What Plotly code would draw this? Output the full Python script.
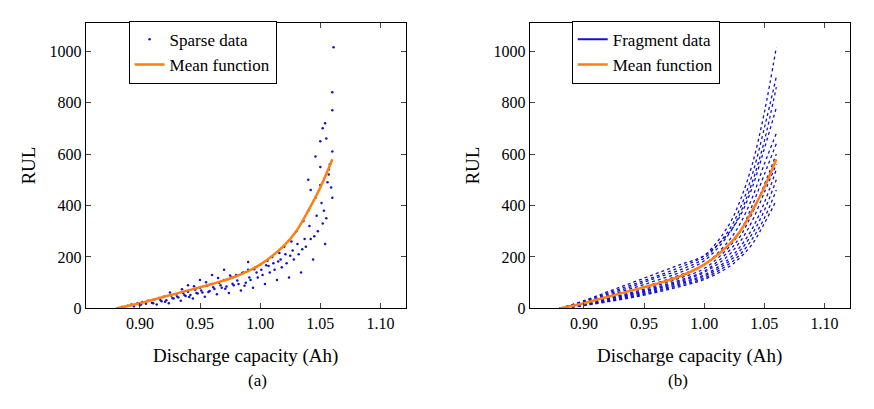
import plotly.graph_objects as go

sparse_x = [0.885,0.89,0.893,0.895,0.898,0.90,0.902,0.905,0.907,0.91,0.912,0.914,0.916,0.918,0.92,0.922,0.924,0.926,0.928,0.93,0.932,0.934,0.936,0.938,0.94,0.942,0.944,0.946,0.948,0.95,0.952,0.954,0.956,0.958,0.96,0.962,0.964,0.966,0.968,0.97,0.972,0.974,0.976,0.978,0.98,0.982,0.984,0.986,0.988,0.99,0.992,0.994,0.996,0.998,1.00,1.002,1.004,1.006,1.008,1.01,1.012,1.014,1.016,1.018,1.02,1.022,1.024,1.026,1.028,1.03,1.032,1.034,1.036,1.038,1.04,1.042,1.044,1.046,1.048,1.05,1.052,1.054,1.046,1.05,1.052,1.054,1.056,1.057,1.058,1.06,1.06,1.06,1.06,1.061,1.04,1.042,1.05,1.055,0.97,0.96,0.95,0.94,0.99,
            0.901,0.906,0.911,0.917,0.921,0.927,0.931,0.937,0.941,0.947,0.951,0.957,0.961,0.967,0.971,0.977,0.981,0.987,0.991,0.997,1.001,1.007,1.011,1.017,1.021,1.027,1.031,1.037,1.041,1.047,1.051,1.057,0.925,0.935,0.945,0.955,0.965,0.975,0.985,0.995,1.005,1.015,1.025,1.035,1.045,1.055,1.059,1.053]
sparse_y = [5,10,15,8,20,12,25,18,30,22,35,15,40,28,45,32,20,50,38,55,42,30,60,48,65,52,38,72,58,80,62,45,88,68,95,75,55,100,80,110,85,60,120,90,130,95,70,140,100,150,110,80,160,120,170,130,95,185,140,200,150,110,215,160,240,175,120,260,190,300,210,140,340,240,380,270,190,430,300,480,330,250,590,550,700,720,490,520,560,610,430,840,770,1015,500,460,650,660,150,130,110,90,180,
            16,28,20,33,26,40,46,52,44,60,70,64,82,90,76,96,108,88,120,140,150,165,175,190,210,225,250,270,320,360,410,540,62,74,86,102,118,128,138,152,168,182,205,230,280,350,470,380]

cap_grid = [0.88,0.90,0.92,0.94,0.96,0.98,1.00,1.02,1.03,1.04,1.05,1.06]
mean_rul = [0,20,45,70,95,125,170,245,300,380,470,580]
fragments = [
    [0,28,60,92,125,160,205,320,420,560,760,1015],
    [0,25,55,85,118,150,195,300,390,520,700,900],
    [0,22,50,78,108,140,185,285,370,490,650,860],
    [0,30,65,100,135,170,205,290,360,470,620,780],
    [0,20,45,70,98,130,170,260,330,430,560,680],
    [0,18,40,62,88,118,155,235,300,400,520,640],
    [0,17,38,58,82,110,145,220,280,370,480,600],
    [0,15,35,55,78,105,140,205,260,340,450,560],
    [0,14,32,52,75,100,130,190,240,310,410,540],
    [0,13,30,48,70,95,125,180,225,290,380,500],
    [0,12,28,45,66,90,118,170,210,270,350,460],
    [0,11,26,42,62,85,112,160,198,250,330,420],
]

BLUE = "#1010d0"
ORANGE = "#ff7f0e"
F = "Liberation Serif, Times New Roman, serif"

fig = go.Figure()
fig.add_trace(go.Scatter(x=sparse_x, y=sparse_y, mode="markers", marker=dict(color=BLUE, size=2.5),
                         name="Sparse data", legend="legend", xaxis="x", yaxis="y"))
fig.add_trace(go.Scatter(x=cap_grid, y=mean_rul, mode="lines", line=dict(color=ORANGE, width=2.5, shape="spline"),
                         name="Mean function", legend="legend", xaxis="x", yaxis="y"))
for i, f in enumerate(fragments):
    fig.add_trace(go.Scatter(x=cap_grid, y=f, mode="lines", line=dict(color=BLUE, width=1.3, dash="dot", shape="spline"),
                             name="Fragment data", showlegend=False, legend="legend2", xaxis="x2", yaxis="y2"))
fig.add_trace(go.Scatter(x=[None], y=[None], mode="lines", line=dict(color=BLUE, width=2),
                         name="Fragment data", legend="legend2", xaxis="x2", yaxis="y2"))
fig.add_trace(go.Scatter(x=cap_grid, y=mean_rul, mode="lines", line=dict(color=ORANGE, width=2.5, shape="spline"),
                         name="Mean function", legend="legend2", xaxis="x2", yaxis="y2"))

ax = dict(range=[0.855, 1.121], tickvals=[0.90,0.95,1.00,1.05,1.10], ticktext=["0.90","0.95","1.00","1.05","1.10"],
          ticks="inside", mirror="ticks", showline=True, linecolor="black", linewidth=1, showgrid=False,
          zeroline=False, tickfont=dict(size=16, family=F, color="black"),
          title=dict(text="Discharge capacity (Ah)", font=dict(size=19, family=F, color="black"), standoff=18))
ay = dict(range=[0, 1110], tickvals=[0,200,400,600,800,1000], ticks="inside", mirror="ticks", showline=True,
          linecolor="black", linewidth=1, showgrid=False, zeroline=False,
          tickfont=dict(size=16, family=F, color="black"),
          title=dict(text="RUL", font=dict(size=19, family=F, color="black"), standoff=8))
leg = dict(bgcolor="white", bordercolor="black", borderwidth=1, font=dict(size=17, family=F, color="black"),
           xanchor="left", yanchor="top", tracegroupgap=0, itemwidth=30)
fig.update_layout(
    width=874, height=409, paper_bgcolor="white", plot_bgcolor="white",
    margin=dict(l=0, r=0, t=0, b=0),
    xaxis=dict(ax, domain=[0.089, 0.455], anchor="y"),
    yaxis=dict(ay, domain=[0.249, 0.963], anchor="x"),
    xaxis2=dict(ax, domain=[0.597, 0.963], anchor="y2"),
    yaxis2=dict(ay, domain=[0.249, 0.963], anchor="x2"),
    legend=dict(leg, x=0.138, y=0.968),
    legend2=dict(leg, x=0.645, y=0.968),
    annotations=[
        dict(text="(a)", x=0.272, y=0.068, xref="paper", yref="paper", showarrow=False, yanchor="middle",
             font=dict(size=17, family=F, color="black")),
        dict(text="(b)", x=0.78, y=0.068, xref="paper", yref="paper", showarrow=False, yanchor="middle",
             font=dict(size=17, family=F, color="black")),
    ],
)
fig.write_html("out.html")
